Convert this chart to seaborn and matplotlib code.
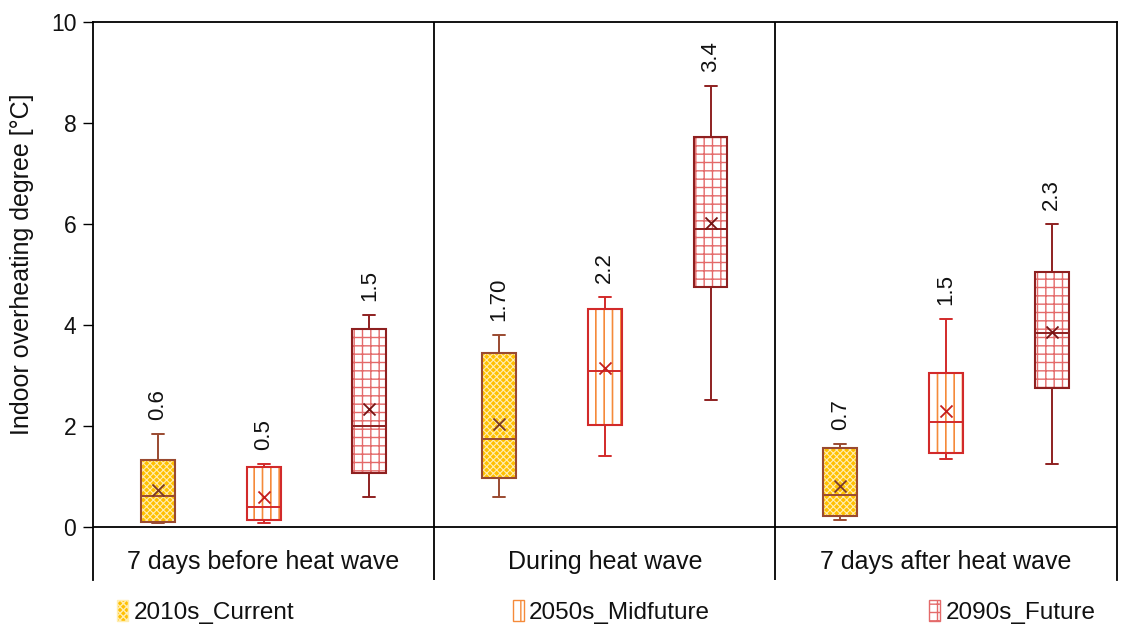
import numpy as np
import pandas as pd
import matplotlib
matplotlib.use("Agg")
import matplotlib.pyplot as plt
from matplotlib.patches import PathPatch, Patch
import seaborn as sns

# ---------------- data ----------------
periods = ["7 days before heat wave", "During heat wave", "7 days after heat wave"]
scenarios = ["2010s_Current", "2050s_Midfuture", "2090s_Future"]

# five-number summaries per scenario (one value per period)
cur_lo = [0.08, 0.59, 0.14]
cur_q1 = [0.10, 0.97, 0.22]
cur_med = [0.61, 1.74, 0.63]
cur_q3 = [1.33, 3.45, 1.56]
cur_hi = [1.84, 3.80, 1.64]
cur_mean = [0.73, 2.04, 0.81]
cur_lbl = ["0.6", "1.70", "0.7"]

mid_lo = [0.07, 1.41, 1.35]
mid_q1 = [0.14, 2.02, 1.47]
mid_med = [0.40, 3.09, 2.08]
mid_q3 = [1.19, 4.32, 3.05]
mid_hi = [1.25, 4.55, 4.12]
mid_mean = [0.59, 3.15, 2.30]
mid_lbl = ["0.5", "2.2", "1.5"]

fut_lo = [0.60, 2.51, 1.25]
fut_q1 = [1.07, 4.75, 2.75]
fut_med = [2.00, 5.90, 3.84]
fut_q3 = [3.92, 7.72, 5.05]
fut_hi = [4.20, 8.73, 6.00]
fut_mean = [2.33, 6.02, 3.86]
fut_lbl = ["1.5", "3.4", "2.3"]

summ = {
    "2010s_Current": (cur_lo, cur_q1, cur_med, cur_q3, cur_hi, cur_mean, cur_lbl),
    "2050s_Midfuture": (mid_lo, mid_q1, mid_med, mid_q3, mid_hi, mid_mean, mid_lbl),
    "2090s_Future": (fut_lo, fut_q1, fut_med, fut_q3, fut_hi, fut_mean, fut_lbl),
}

rows = []
for sc, (lo, q1, md, q3, hi, _, _) in summ.items():
    for i, p in enumerate(periods):
        for v in (lo[i], q1[i], md[i], q3[i], hi[i]):
            rows.append({"period": p, "scenario": sc, "value": v})
df = pd.DataFrame(rows)

# ---------------- styles ----------------
fills = {"2010s_Current": "#FFC000", "2050s_Midfuture": "#FFFFFF", "2090s_Future": "#FFFFFF"}
edges = {"2010s_Current": "#9A4A30", "2050s_Midfuture": "#D22A2A", "2090s_Future": "#8E2020"}
hatchc = {"2010s_Current": "#FFEDB0", "2050s_Midfuture": "#F58A3A", "2090s_Future": "#E46A6A"}
hatches = {"2010s_Current": "xxxxx", "2050s_Midfuture": "||", "2090s_Future": "++"}
meanc = {"2010s_Current": "#7A3A28", "2050s_Midfuture": "#C41E1E", "2090s_Future": "#761414"}
hatchlw = {"2010s_Current": 0.8, "2050s_Midfuture": 1.2, "2090s_Future": 1.0}

sns.set_style("white")
plt.rcParams["font.family"] = ["Liberation Sans", "DejaVu Sans"]
plt.rcParams["hatch.linewidth"] = 1.0

fig = plt.figure(figsize=(11.29, 6.30), dpi=100)
ax = fig.add_axes([0.0824, 0.0794, 0.9066, 0.8856])

WIDTH = 0.93
for sc in scenarios:
    n0 = len(ax.patches)
    sub = df[df["scenario"] == sc]
    sns.boxplot(data=sub, x="period", y="value", hue="scenario", order=periods,
                hue_order=scenarios, palette=fills, saturation=1, dodge=True, width=WIDTH,
                gap=0.68, whis=(0, 100), linecolor=edges[sc], linewidth=1.4, legend=False,
                showfliers=False, capwidths=0.035, ax=ax)
    for p in ax.patches[n0:]:
        outline = PathPatch(p.get_path(), transform=p.get_transform(), facecolor="none",
                            edgecolor=edges[sc], linewidth=1.5, zorder=p.get_zorder() + 0.05)
        p.set_edgecolor(hatchc[sc])
        p.set_linewidth(0)
        p.set_hatch(hatches[sc])
        if hasattr(p, "set_hatch_linewidth"):
            p.set_hatch_linewidth(hatchlw[sc])
        ax.add_patch(outline)

# means and labels
offs = (np.arange(len(scenarios)) - 1) * WIDTH / len(scenarios)
for j, sc in enumerate(scenarios):
    lo, q1, md, q3, hi, mn, lb = summ[sc]
    xs = np.arange(len(periods)) + offs[j]
    ax.scatter(xs, mn, marker="x", s=75, color=meanc[sc], linewidths=1.3, zorder=6)
    for i in range(len(periods)):
        ax.annotate(lb[i], (xs[i], hi[i]), xytext=(0, 10), textcoords="offset points",
                    rotation=90, ha="center", va="bottom", fontsize=16, color="#111111")

# frame / axes
ax.set_xlim(-0.5, 2.5)
ax.set_ylim(-1.05, 10)
ax.set_yticks(np.arange(0, 11, 2))
ax.set_yticklabels([str(v) for v in range(0, 11, 2)], fontsize=16.5, color="#111111")
ax.tick_params(axis="y", direction="out", length=7, width=1, color="black", left=True, pad=5)
ax.set_xticks([])
ax.set_xlabel("")
ax.set_ylabel("Indoor overheating degree [°C]", fontsize=18, color="#111111")
ax.yaxis.set_label_coords(-0.058, (5.2 + 1.05) / 11.05)
for s in ["left", "top", "right"]:
    ax.spines[s].set_visible(True)
    ax.spines[s].set_color("black")
    ax.spines[s].set_linewidth(1.3)
ax.spines["bottom"].set_visible(False)
ax.axhline(0, color="black", linewidth=1.3, zorder=1)
for xv in (0.5, 1.5):
    ax.axvline(xv, color="black", linewidth=1.3, zorder=1)
for i, p in enumerate(periods):
    ax.text(i, -0.69, p, ha="center", va="center", fontsize=18, color="#111111")

handles = [Patch(facecolor=fills[sc], edgecolor=hatchc[sc], hatch=hatches[sc]) for sc in scenarios]
leg = fig.legend(handles, scenarios, loc="center", bbox_to_anchor=(0.537, 0.029), ncol=3,
                 frameon=False, fontsize=17.5, handlelength=0.45, handleheight=1.0,
                 handletextpad=0.22, columnspacing=9.0)
for t in leg.get_texts():
    t.set_color("#111111")

fig.savefig("out.png", dpi=100)
